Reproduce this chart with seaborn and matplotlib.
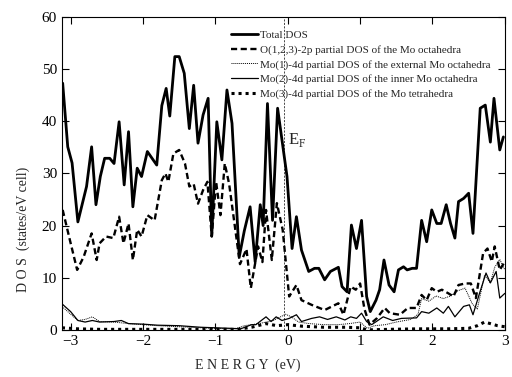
import matplotlib
matplotlib.use("Agg")
import matplotlib.pyplot as plt
import seaborn as sns
import pandas as pd

# Total DOS
e_total = [-3.11, -3.04, -2.98, -2.90, -2.78, -2.71, -2.65, -2.59, -2.53, -2.46, -2.40, -2.33,
           -2.26, -2.20, -2.14, -2.08, -2.02, -1.94, -1.81, -1.74, -1.68, -1.63, -1.56, -1.50,
           -1.43, -1.36, -1.30, -1.24, -1.17, -1.10, -1.05, -0.98, -0.91, -0.84, -0.77, -0.67,
           -0.60, -0.52, -0.45, -0.38, -0.34, -0.28, -0.21, -0.14, -0.01, 0.06, 0.12, 0.19,
           0.29, 0.37, 0.43, 0.51, 0.59, 0.70, 0.75, 0.82, 0.88, 0.95, 1.02, 1.09, 1.14, 1.22,
           1.27, 1.33, 1.40, 1.47, 1.53, 1.60, 1.65, 1.72, 1.78, 1.85, 1.92, 1.99, 2.06, 2.12,
           2.19, 2.25, 2.31, 2.36, 2.43, 2.50, 2.56, 2.66, 2.73, 2.80, 2.85, 2.93, 2.98]
dos_total = [47.3, 35.1, 32.0, 20.7, 27.5, 35.1, 24.0, 29.4, 32.9, 32.9, 31.9, 39.9,
             27.8, 38.0, 23.6, 31.0, 29.4, 34.2, 31.6, 43.0, 46.3, 41.0, 52.4, 52.4,
             49.2, 38.6, 46.9, 35.8, 41.2, 44.4, 18.0, 39.9, 32.6, 46.0, 39.6, 14.0,
             19.0, 23.6, 13.0, 24.0, 20.0, 43.4, 21.0, 42.5, 29.4, 15.6, 21.7, 15.3,
             11.2, 11.8, 11.8, 9.6, 11.2, 12.0, 8.3, 7.3, 20.1, 15.6, 21.0, 6.4, 3.5, 5.7,
             7.7, 13.4, 8.6, 7.3, 11.5, 12.1, 11.5, 11.8, 11.8, 21.0, 16.9, 23.0, 20.4, 20.4,
             24.0, 20.4, 17.6, 24.6, 25.2, 26.2, 18.5, 42.5, 43.1, 36.0, 44.4, 34.5, 37.0]

# O(1,2,3)-2p partial DOS
e_o2p = [-3.11, -3.01, -2.91, -2.82, -2.71, -2.64, -2.60, -2.51, -2.41, -2.33, -2.27, -2.20,
         -2.14, -2.08, -2.02, -1.94, -1.84, -1.74, -1.69, -1.65, -1.58, -1.50, -1.42, -1.36,
         -1.30, -1.24, -1.17, -1.11, -1.05, -0.99, -0.93, -0.87, -0.81, -0.66, -0.57, -0.51,
         -0.41, -0.35, -0.30, -0.22, -0.15, -0.07, 0.02, 0.12, 0.19, 0.33, 0.51, 0.70, 0.77,
         0.87, 0.94, 1.00, 1.06, 1.13, 1.23, 1.34, 1.41, 1.55, 1.66, 1.78, 1.85, 1.92, 1.99,
         2.06, 2.13, 2.22, 2.29, 2.36, 2.45, 2.53, 2.60, 2.70, 2.76, 2.82, 2.86, 2.93, 3.00]
dos_o2p = [23.0, 17.2, 11.5, 14.0, 18.5, 13.4, 16.6, 17.9, 17.6, 21.7, 16.6, 20.4,
           13.4, 19.2, 17.9, 22.0, 21.0, 28.7, 30.0, 28.4, 33.8, 34.5, 31.9, 27.5,
           28.0, 24.2, 26.8, 28.4, 17.9, 28.4, 22.0, 31.9, 28.0, 12.6, 15.5, 8.0,
           16.0, 13.0, 23.0, 13.4, 24.3, 19.2, 6.4, 8.6, 5.7, 4.8, 3.8, 5.1, 2.9,
           8.3, 7.7, 8.9, 4.0, 1.0, 2.2, 4.2, 3.2, 2.9, 4.2, 4.2, 6.7, 5.7, 8.0,
           7.3, 7.7, 7.0, 6.4, 8.6, 8.9, 8.9, 6.1, 14.7, 15.6, 13.1, 16.0, 11.5, 13.1]

# Mo(1)-4d external octahedra (thin dotted)
e_mo1 = [-3.12, -3.0, -2.9, -2.8, -2.7, -2.6, -2.4, -2.2, -2.0, -1.8, -1.5, -1.2, -1.0,
         -0.8, -0.7, -0.6, -0.5, -0.4, -0.3, -0.2, -0.1, -0.03, 0.05, 0.15, 0.3, 0.5, 0.7,
         0.85, 1.0, 1.1, 1.2, 1.35, 1.5, 1.7, 1.8, 1.85, 1.95, 2.05, 2.15, 2.25, 2.35,
         2.45, 2.55, 2.62, 2.72, 2.8, 2.86, 2.93, 3.0]
dos_mo1 = [4.5, 3.0, 1.8, 2.0, 2.5, 1.6, 1.5, 1.2, 1.0, 0.8, 0.6, 0.4, 0.3,
           0.2, 0.3, 0.8, 1.0, 1.2, 1.5, 1.8, 2.5, 3.0, 2.5, 1.5, 1.2, 1.0, 1.0,
           1.2, 1.5, 0.3, 0.8, 1.0, 1.5, 2.0, 3.0, 6.0, 5.5, 6.5, 6.0, 6.5, 7.5,
           8.0, 5.0, 4.0, 10.5, 9.0, 12.0, 13.5, 11.5]

# Mo(2)-4d inner octahedra (thin solid)
e_mo2 = [-3.12, -3.0, -2.9, -2.8, -2.7, -2.6, -2.4, -2.3, -2.2, -2.0, -1.8, -1.5, -1.2,
         -1.0, -0.8, -0.65, -0.5, -0.44, -0.30, -0.23, -0.16, -0.08, 0.02, 0.12, 0.19, 0.33,
         0.44, 0.55, 0.67, 0.79, 0.87, 0.95, 1.02, 1.09, 1.16, 1.32, 1.45, 1.57, 1.78, 1.85,
         1.95, 2.06, 2.15, 2.22, 2.31, 2.43, 2.51, 2.56, 2.65, 2.74, 2.80, 2.88, 2.93, 3.0]
dos_mo2 = [5.0, 3.5, 1.8, 1.5, 1.8, 1.5, 1.6, 1.8, 1.2, 1.1, 0.9, 0.8, 0.5,
           0.4, 0.3, 0.2, 1.0, 1.0, 2.5, 1.6, 2.5, 1.8, 2.2, 2.9, 1.6, 2.2,
           2.5, 2.0, 2.5, 1.9, 2.5, 2.2, 3.2, 1.6, 1.0, 2.5, 1.8, 2.2, 2.3, 3.5,
           3.2, 4.2, 3.2, 4.5, 2.5, 4.5, 4.8, 2.9, 7.0, 10.9, 9.0, 11.2, 6.1, 7.0]

# Mo(3)-4d tetrahedra (thick dotted)
e_mo3 = [-3.12, -2.9, -2.6, -2.2, -1.8, -1.4, -1.0, -0.7, -0.5, -0.3, -0.15, 0.0, 0.2,
         0.5, 0.8, 1.0, 1.1, 1.4, 1.8, 2.2, 2.5, 2.62, 2.72, 2.8, 2.9, 3.0]
dos_mo3 = [0.4, 0.2, 0.1, 0.1, 0.1, 0.1, 0.1, 0.1, 0.5, 1.2, 0.8, 1.0, 0.7,
           0.5, 0.5, 0.4, 0.0, 0.1, 0.2, 0.2, 0.3, 0.8, 1.5, 1.2, 0.8, 0.6]

labels = ["Total DOS",
          "O(1,2,3)-2p partial DOS of the Mo octahedra",
          "Mo(1)-4d partial DOS of the external Mo octahedra",
          "Mo(2)-4d partial DOS of the inner Mo octahedra",
          "Mo(3)-4d partial DOS of the Mo tetrahedra"]
e_fermi = -0.05

frames = []
for e, d, lab in zip([e_total, e_o2p, e_mo1, e_mo2, e_mo3],
                     [dos_total, dos_o2p, dos_mo1, dos_mo2, dos_mo3], labels):
    frames.append(pd.DataFrame({"energy": e, "dos": d, "series": lab}))
df = pd.concat(frames, ignore_index=True)

sns.set_style("ticks")
plt.rcParams["font.family"] = ["Liberation Serif", "DejaVu Serif"]

fig = plt.figure(figsize=(5.12, 3.77), dpi=100)
ax = fig.add_axes([0.121, 0.125, 0.865, 0.83])

styles = {
    labels[0]: dict(lw=2.0, ls="-"),
    labels[1]: dict(lw=1.7, ls=(0, (2.6, 1.5))),
    labels[2]: dict(lw=0.7, ls=(0, (1, 1))),
    labels[3]: dict(lw=0.9, ls="-"),
    labels[4]: dict(lw=2.2, ls=(0, (1, 1.3))),
}
for lab in labels:
    sub = df[df["series"] == lab]
    sns.lineplot(data=sub, x="energy", y="dos", ax=ax, color="black",
                 label=lab, estimator=None, sort=False, **styles[lab])

ax.axvline(e_fermi, color="black", lw=0.5, ls=(0, (3, 2)))
ax.text(e_fermi + 0.06, 36.5, "E$_\\mathregular{F}$", fontsize=12, va="center")

ax.set_xlim(-3.12, 3.0)
ax.set_ylim(0, 60)
ax.set_xticks([-3, -2, -1, 0, 1, 2, 3])
ax.set_yticks([0, 10, 20, 30, 40, 50, 60])
ax.tick_params(direction="in", top=True, right=True, labelsize=11, length=5, width=0.8,
               colors="black")
for s in ax.spines.values():
    s.set_linewidth(0.8)
    s.set_color("black")

ax.set_xlabel("E N E R G Y  (eV)", fontsize=10)
ax.set_ylabel("D O S  (states/eV cell)", fontsize=10)
ax.xaxis.set_label_coords(0.42, -0.09)
ax.yaxis.set_label_coords(-0.072, 0.32)

ax.legend(loc="upper left", bbox_to_anchor=(0.37, 0.975), frameon=False, fontsize=8,
          handlelength=2.4, handletextpad=0.2, labelspacing=0.42, borderpad=0)

fig.savefig("out.png", dpi=100)
